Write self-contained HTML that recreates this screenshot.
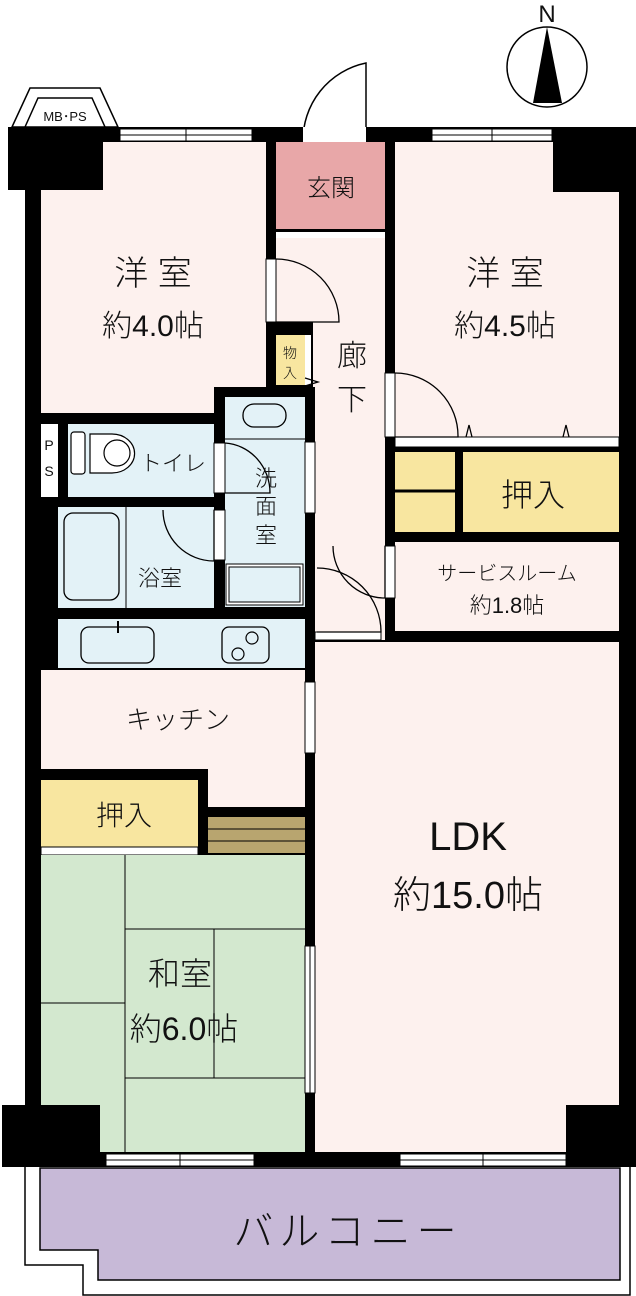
<!DOCTYPE html>
<html><head><meta charset="utf-8"><style>
html,body{margin:0;padding:0;background:#fff;}
svg{display:block;}
text{font-family:"Liberation Sans","Noto Sans CJK JP",sans-serif;fill:#111;}
.j{font-family:"Noto Sans CJK JP","Liberation Sans",sans-serif;font-weight:300;}
</style></head><body>
<svg width="636" height="1296" viewBox="0 0 636 1296" xmlns="http://www.w3.org/2000/svg">
<text x="547" y="22" font-size="24" text-anchor="middle">N</text>
<circle cx="547" cy="67" r="40" fill="#fff" stroke="#000" stroke-width="1.5"/>
<polygon points="547,27 533,103 562,103" fill="#000"/>
<path d="M366,142 L366,63 A79,79 0 0 0 303,142" fill="none" stroke="#000" stroke-width="1.5"/>
<polygon points="12,127 30,88 100,88 118,127" fill="#fff" stroke="#000" stroke-width="1.5"/>
<polygon points="25,127 38,98 92,98 105,127" fill="#fff" stroke="#000" stroke-width="1.5"/>
<text x="65" y="121" font-size="13" text-anchor="middle">MB･PS</text>
<path d="M25,1167 L25,1265 L83,1265 L83,1295 L630,1295 L630,1167" fill="#fff" stroke="#000" stroke-width="1.5"/>
<polygon points="40,1168 620,1168 620,1280 98,1280 98,1250 40,1250" fill="#c7b9d7" stroke="#000" stroke-width="1.5"/>
<text x="348" y="1245" font-size="40" text-anchor="middle" class="j" letter-spacing="6">バルコニー</text>
<rect x="25" y="127" width="611" height="1040" fill="#000"/>
<g fill="#fff" stroke="#000" stroke-width="1">
<rect x="120" y="129" width="132" height="12"/>
<rect x="432" y="129" width="120" height="12"/>
<rect x="106" y="1154" width="148" height="12"/>
<rect x="400" y="1154" width="166" height="12"/>
</g>
<g stroke="#000" stroke-width="1">
<line x1="120" y1="135" x2="252" y2="135"/><line x1="186" y1="129" x2="186" y2="141"/>
<line x1="432" y1="135" x2="552" y2="135"/><line x1="492" y1="129" x2="492" y2="141"/>
<line x1="106" y1="1160" x2="254" y2="1160"/><line x1="180" y1="1154" x2="180" y2="1166"/>
<line x1="400" y1="1160" x2="566" y2="1160"/><line x1="483" y1="1154" x2="483" y2="1166"/>
</g>
<rect x="303" y="127" width="63" height="15" fill="#fff"/>
<path d="M41,142 L266,142 L266,387 L214,387 L214,413 L41,413 Z" fill="#fdf1ee"/>
<rect x="276" y="142" width="109" height="87" fill="#e8a7a8"/>
<rect x="276" y="232" width="109" height="6" fill="#fff"/>
<path d="M276,238 L385,238 L385,640 L315,640 L315,387 L313,387 L313,322 L276,322 Z" fill="#fdf1ee"/>
<rect x="276" y="335" width="29" height="50" fill="#f8e6a0"/>
<rect x="305" y="335" width="6" height="50" fill="#fff"/>
<path d="M395,192 L395,142 L553,142 L553,192 L619,192 L619,437 L395,437 Z" fill="#fdf1ee"/>
<rect x="395" y="437" width="224" height="10" fill="#fff" stroke="#000" stroke-width="1"/>
<rect x="395" y="452" width="60" height="80" fill="#f8e6a0"/>
<line x1="395" y1="491" x2="455" y2="491" stroke="#000" stroke-width="3"/>
<rect x="463" y="452" width="156" height="80" fill="#f8e6a0"/>
<rect x="395" y="542" width="224" height="89" fill="#fdf1ee"/>
<rect x="41" y="424" width="17" height="73" fill="#fff"/>
<rect x="68" y="424" width="146" height="73" fill="#e3f2f7"/>
<rect x="225" y="397" width="80" height="210" fill="#e3f2f7"/>
<line x1="225" y1="439" x2="305" y2="439" stroke="#000" stroke-width="1"/>
<rect x="243" y="404" width="43" height="23" rx="11" fill="none" stroke="#000" stroke-width="1.3"/>
<rect x="226" y="564" width="77" height="41" fill="#fff" stroke="#000" stroke-width="1"/>
<rect x="229" y="567" width="71" height="35" fill="#e3f2f7" stroke="#000" stroke-width="1"/>
<rect x="58" y="507" width="156" height="101" fill="#e3f2f7"/>
<rect x="64" y="513" width="55" height="87" rx="9" fill="none" stroke="#000" stroke-width="1.3"/>
<line x1="126" y1="507" x2="126" y2="608" stroke="#000" stroke-width="1"/>
<rect x="58" y="619" width="247" height="49" fill="#e3f2f7"/>
<rect x="81" y="627" width="73" height="36" rx="8" fill="none" stroke="#000" stroke-width="1.3"/>
<line x1="118" y1="621" x2="118" y2="633" stroke="#000" stroke-width="2"/>
<rect x="222" y="627" width="47" height="36" rx="7" fill="none" stroke="#000" stroke-width="1.3"/>
<circle cx="252" cy="638" r="6" fill="none" stroke="#000" stroke-width="1.2"/>
<circle cx="238" cy="654" r="6" fill="none" stroke="#000" stroke-width="1.2"/>
<path d="M41,670 L305,670 L305,807 L208,807 L208,769 L41,769 Z" fill="#fdf1ee"/>
<rect x="41" y="780" width="157" height="67" fill="#f8e6a0"/>
<rect x="41" y="847" width="157" height="8" fill="#fff" stroke="#000" stroke-width="1"/>
<rect x="208" y="817" width="97" height="36" fill="#b8a56f"/>
<line x1="208" y1="829" x2="305" y2="829" stroke="#000" stroke-width="1"/>
<line x1="208" y1="841" x2="305" y2="841" stroke="#000" stroke-width="1"/>
<rect x="41" y="855" width="264" height="297" fill="#d3e8cf"/>
<g stroke="#000" stroke-width="1">
<line x1="125" y1="855" x2="125" y2="1152"/>
<line x1="125" y1="929" x2="305" y2="929"/>
<line x1="41" y1="1003" x2="125" y2="1003"/>
<line x1="125" y1="1078" x2="305" y2="1078"/>
<line x1="214" y1="929" x2="214" y2="1078"/>
</g>
<rect x="315" y="642" width="304" height="510" fill="#fdf1ee"/>
<!-- corner blocks on top -->
<rect x="8" y="127" width="95" height="63" fill="#000"/>
<rect x="553" y="127" width="83" height="65" fill="#000"/>
<rect x="2" y="1105" width="98" height="62" fill="#000"/>
<rect x="566" y="1105" width="70" height="50" fill="#000"/>
<g fill="#fff" stroke="#000" stroke-width="1">
<rect x="266" y="259" width="10" height="63"/>
<rect x="385" y="373" width="10" height="64"/>
<rect x="214" y="443" width="11" height="50"/>
<rect x="214" y="510" width="11" height="50"/>
<rect x="305" y="442" width="10" height="71"/>
<rect x="305" y="682" width="10" height="71"/>
<rect x="385" y="546" width="10" height="52"/>
<rect x="315" y="632" width="66" height="8"/>
<rect x="305" y="946" width="10" height="147"/>
</g>
<line x1="310" y1="946" x2="310" y2="1093" stroke="#000" stroke-width="1"/>
<g fill="none" stroke="#000" stroke-width="1.3">
<path d="M276,259 A63,63 0 0 1 339,322 L276,322"/>
<path d="M395,373 A63,63 0 0 1 458,437 L395,437"/>
<path d="M225,443 A48,50 0 0 1 270,493 L225,493"/>
<path d="M163,510 A51,51 0 0 0 214,561 L214,510"/>
<path d="M333,546 A52,52 0 0 0 385,598 L385,546"/>
<path d="M317,568 A64,64 0 0 1 381,632 L317,632"/>
<path d="M305,378 L318,382 L305,386"/>
<path d="M466,437 L469,425 L472,437 M563,437 L566,425 L569,437"/>
</g>
<rect x="71" y="432" width="14" height="42" rx="3" fill="#fff" stroke="#000" stroke-width="1.2"/>
<path d="M90,434 L112,434 A22,19 0 0 1 112,473 L90,473 Z" fill="#fff" stroke="#000" stroke-width="1.2"/>
<circle cx="117" cy="453" r="13" fill="none" stroke="#000" stroke-width="1.2"/>
<g class="j">
<text x="153" y="285" font-size="34" text-anchor="middle">洋 室</text>
<text x="153" y="336" font-size="30" text-anchor="middle">約4.0帖</text>
<text x="505" y="285" font-size="34" text-anchor="middle">洋 室</text>
<text x="505" y="336" font-size="30" text-anchor="middle">約4.5帖</text>
<text x="331" y="196" font-size="24" text-anchor="middle">玄関</text>
<text x="352" y="366" font-size="30" text-anchor="middle">廊</text>
<text x="352" y="410" font-size="30" text-anchor="middle">下</text>
<text x="290" y="358" font-size="14" text-anchor="middle">物</text>
<text x="290" y="378" font-size="14" text-anchor="middle">入</text>
<text x="49" y="450" font-size="14" text-anchor="middle">P</text>
<text x="49" y="476" font-size="14" text-anchor="middle">S</text>
<text x="173" y="471" font-size="22" text-anchor="middle">トイレ</text>
<text x="266" y="486" font-size="22" text-anchor="middle">洗</text>
<text x="266" y="514" font-size="22" text-anchor="middle">面</text>
<text x="266" y="543" font-size="22" text-anchor="middle">室</text>
<text x="160" y="586" font-size="22" text-anchor="middle">浴室</text>
<text x="533" y="506" font-size="32" text-anchor="middle">押入</text>
<text x="507" y="580" font-size="20" text-anchor="middle">サービスルーム</text>
<text x="507" y="613" font-size="22" text-anchor="middle">約1.8帖</text>
<text x="178" y="729" font-size="26" text-anchor="middle">キッチン</text>
<text x="124" y="825" font-size="28" text-anchor="middle">押入</text>
<text x="468" y="850" font-size="40" text-anchor="middle">LDK</text>
<text x="468" y="908" font-size="38" text-anchor="middle">約15.0帖</text>
<text x="180" y="985" font-size="32" text-anchor="middle">和室</text>
<text x="184" y="1040" font-size="32" text-anchor="middle">約6.0帖</text>
</g>
</svg>
</body></html>
